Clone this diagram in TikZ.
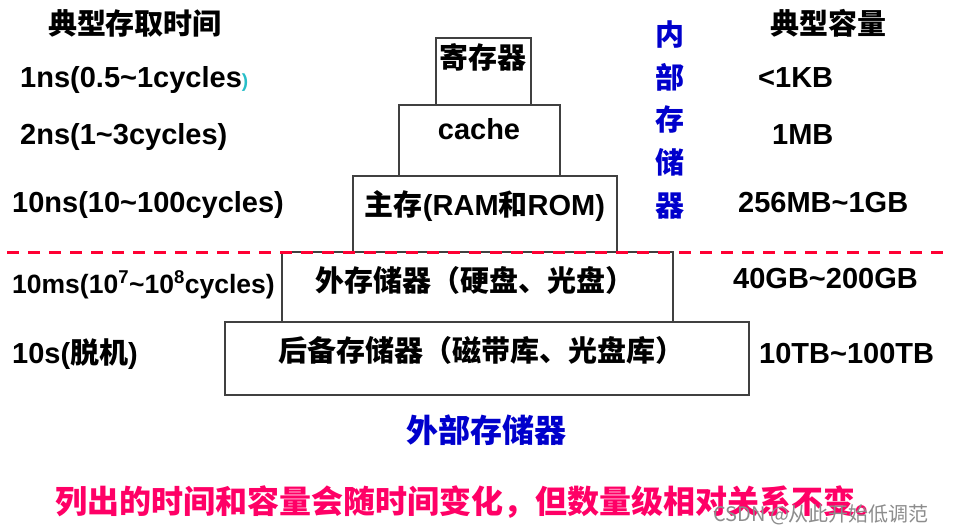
\documentclass[tikz,border=0pt]{standalone}
\usepackage{fontspec}
\setmainfont{Liberation Sans}
\newfontfamily\cjk{Noto Sans CJK SC}
\newcommand\fs[1]{\fontsize{#1}{#1}\selectfont}
\newcommand\zh[1]{{\cjk\bfseries #1}}
\newcommand\tld{\textasciitilde}
\definecolor{dkblue}{RGB}{0,0,204}
\definecolor{hotpink}{RGB}{255,0,102}
\definecolor{dashred}{RGB}{255,0,51}
\definecolor{frame}{RGB}{64,64,64}
\definecolor{tealp}{RGB}{40,190,200}
\tikzset{
  box/.style={draw=frame, line width=1.3pt, inner sep=0pt, outer sep=0pt},
  txt/.style={anchor=base, inner sep=0pt, font=\fs{29}\bfseries},
  lt/.style={txt, anchor=base west},
  zhtxt/.style={txt, font=\fs{29}\cjk\bfseries},
  bluezh/.style={zhtxt, text=dkblue},
  sep/.style={dashred, line width=3pt, dash pattern=on 12pt off 9pt}
}
\begin{document}
\begin{tikzpicture}[x=1pt,y=-1pt]
\fill[white] (0,0) rectangle (954,532);
\useasboundingbox (0,0) rectangle (954,532);

% headers
\node[zhtxt] (hleft) at (135,35) {典型存取时间};
\node[zhtxt] (hright) at (828,35) {典型容量};

% pyramid boxes
\node[box, minimum width=95pt, minimum height=67pt] (reg) at (483.5,71.5) {};
\node[box, minimum width=161pt, minimum height=71pt] (cache) at (479.5,140.5) {};
\node[box, minimum width=264pt, minimum height=76pt] (ram) at (485,214) {};
\node[box, minimum width=391pt, minimum height=70pt] (ext) at (477.5,287) {};
\node[box, minimum width=524pt, minimum height=73pt] (bak) at (487,358.5) {};

% box texts
\node[zhtxt] (tReg) at (483,69) {寄存器};
\node[txt] (tCache) at (479,140) {cache};
\node[txt] (tRam) at (485,215) {\zh{主存}(RAM\zh{和}ROM)};
\node[zhtxt] (tExt) at (475,291) {外存储器（硬盘、光盘）};
\node[zhtxt] (tBak) at (481,361) {后备存储器（磁带库、光盘库）};

% separator
\coordinate (dl) at (7,252);
\coordinate (dr) at (945,252);
\draw[sep] (dl) -- (dr);

% access times
\node[lt] (t1) at (20,88) {1ns(0.5\tld1cycles\textcolor{tealp}{\fs{19})}};
\node[lt] (t2) at (20,145) {2ns(1\tld3cycles)};
\node[lt] (t3) at (12,213) {10ns(10\tld100cycles)};
\node[lt, font=\fs{26.5}\bfseries] (t4) at (12,293) {10ms(10\textsuperscript{7}\tld10\textsuperscript{8}cycles)};
\node[lt] (t5) at (12,363) {10s(\zh{脱机})};

% capacities
\node[lt] (c1) at (758,88) {<1KB};
\node[lt] (c2) at (772,145) {1MB};
\node[lt] (c3) at (738,213) {256MB\tld1GB};
\node[lt] (c4) at (733,288) {40GB\tld200GB};
\node[lt] (c5) at (759,363) {10TB\tld100TB};

% internal memory (vertical)
\foreach \c [count=\i] in {内,部,存,储,器}
  \node[bluezh] (in\i) at (670,{46+42.5*(\i-1)}) {\c};

% external memory
\node[bluezh, font=\fs{32}\cjk\bfseries] (outer) at (486,442) {外部存储器};

% note
\node[zhtxt, anchor=base west, font=\fs{32}\cjk\bfseries, text=hotpink] (note) at (55,513)
  {列出的时间和容量会随时间变化，但数量级相对关系不变。};

% watermark
\node[anchor=base west, inner sep=0pt, font=\fs{20}\cjk, text=black!45] (wm) at (713,521)
  {CSDN @从此开始低调范};
\end{tikzpicture}
\end{document}
